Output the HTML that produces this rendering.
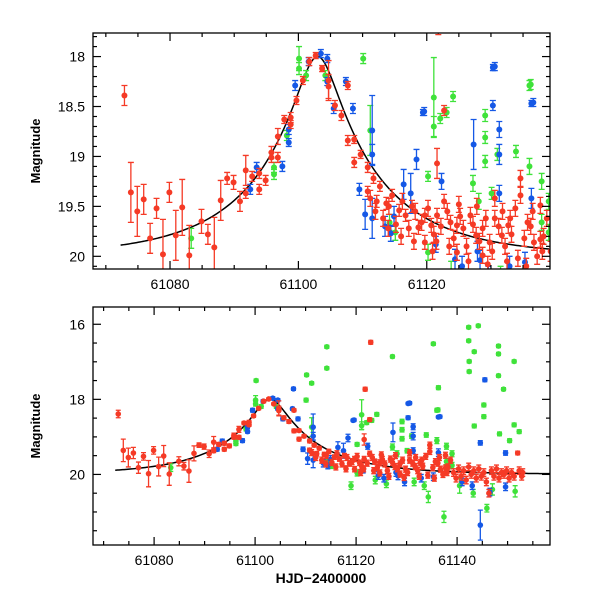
<!DOCTYPE html>
<html><head><meta charset="utf-8"><style>
html,body{margin:0;padding:0;background:#fff;}
svg{display:block;font-family:"Liberation Sans",sans-serif;}
</style></head><body>
<svg id="c" width="600" height="600" viewBox="0 0 600 600" xmlns="http://www.w3.org/2000/svg">
<defs>
<clipPath id="clipTop"><rect x="93" y="33" width="457" height="236"/></clipPath>
<clipPath id="clipBot"><rect x="93" y="307" width="457" height="238"/></clipPath>
</defs>
</svg>
<script>
// [HJD-2400000, magnitude, error]
const redPoints = [
[61072.9,18.39,.1],[61073.9,19.36,.3],[61074.9,19.55,.25],[61075.9,19.43,.15],[61076.9,19.82,.15],
[61077.9,19.52,.1],[61078.9,19.98,.35],[61079.9,19.36,.1],[61080.9,19.79,.25],[61081.9,19.51,.28],
[61083.0,19.99,.3],[61084.9,19.65,.12],[61085.9,19.78,.1],[61086.9,19.91,.3],[61087.9,19.44,.2],
[61088.9,19.22,.06],[61089.9,19.26,.07],[61090.9,19.45,.1],[61091.8,19.14,.15],[61091.8,19.37,.05],
[61092.8,19.2,.05],[61093.9,19.17,.05],[61093.9,19.33,.05],[61094.9,19.24,.05],[61095.8,18.96,.06],
[61095.8,19.01,.05],[61096.8,18.8,.08],[61096.8,19.01,.05],[61097.8,18.63,.04],[61098.8,18.61,.05],
[61098.8,18.68,.04],[61099.7,18.44,.04],[61100.7,18.24,.04],[61101.7,18.05,.04],[61102.7,17.99,.03],
[61103.7,18.12,.03],[61104.7,18.3,.12],[61104.7,18.24,.2],[61105.7,18.49,.05],[61106.7,18.59,.05],
[61107.7,18.29,.04],[61107.7,18.84,.05],[61108.7,18.83,.04],[61108.7,19.06,.05],[61109.7,18.98,.04],
[61110.8,19.11,.05],[61110.8,19.35,.05],[61111.7,19.22,.05],[61112.2,19.45,.06],[61112.7,19.3,.05],
[61113.7,19.47,.06],[61114.6,19.39,.06],[61115.7,19.54,.06],[61116.7,19.59,.06],[61117.7,19.5,.06],
[61118.7,19.71,.07],[61119.7,19.59,.07],[61119.7,19.86,.07],[61120.7,19.69,.07],[61121.6,19.07,.15],
[61121.6,19.59,.07],[61122.7,18.54,.05],[61122.7,19.45,.07],[61123.7,19.66,.07],[61124.7,19.69,.08],
[61124.7,19.96,.08],[61125.7,19.72,.08],[61126.8,19.59,.08],[61127.7,19.79,.08],[61128.7,19.72,.08],
[61128.7,19.99,.08],[61129.8,19.86,.08],[61130.6,19.42,.08],[61130.6,19.62,.08],[61131.7,19.79,.08],
[61132.7,19.69,.08],[61133.8,19.52,.08],[61134.6,19.22,.08],[61134.6,19.39,.08],[61135.7,19.66,.08],
[61136.7,19.86,.08],[61137.7,19.49,.08],[61137.7,19.83,.08],[61122.9,16.48,.05],[61121.8,17.73,.05],
[61139.3,19.95,.1],[61139.8,20.1,.1],[61140.3,19.85,.1],[61140.8,20.05,.1],[61141.3,19.9,.1],
[61141.8,20.15,.1],[61142.3,19.8,.1],[61142.8,20.0,.1],[61143.3,19.9,.1],[61143.8,20.1,.1],
[61144.3,19.85,.1],[61144.8,20.05,.1],[61145.3,19.95,.1],[61145.8,20.2,.1],[61146.3,20.5,.1],
[61146.8,19.9,.1],[61147.3,20.05,.1],[61147.8,19.85,.1],[61148.3,20.1,.1],[61148.8,19.95,.1],
[61149.3,20.0,.1],[61149.8,19.9,.1],[61150.3,20.1,.1],[61150.8,19.95,.1],[61151.3,20.05,.1],
[61152.0,19.43,.05],[61152.3,19.9,.1],[61152.8,20.05,.1],[61153.0,19.95,.1]
];
const redDensePoints = [
[61111.2,19.42,.08],[61112.0,19.55,.08],[61113.2,19.62,.08],[61114.1,19.5,.08],[61115.2,19.68,.08],
[61116.2,19.45,.08],[61117.2,19.72,.08],[61118.2,19.55,.08],[61119.2,19.66,.08],[61120.2,19.52,.08],
[61121.1,19.78,.08],[61122.2,19.7,.08],[61123.2,19.55,.08],[61124.2,19.82,.08],[61125.2,19.6,.08],
[61126.2,19.9,.08],[61127.2,19.68,.08],[61128.2,19.85,.08],[61129.2,19.62,.08],[61130.2,19.95,.08],
[61131.2,19.7,.08],[61132.2,19.9,.08],[61133.2,19.78,.08],[61134.2,20.02,.08],[61135.2,19.82,.08],
[61136.2,19.7,.08],[61137.2,20.0,.08],[61138.2,19.8,.08],[61138.7,19.62,.08],[61126.5,20.05,.08],
[61129.5,20.08,.08],[61132.5,20.05,.08],[61135.5,20.1,.08],[61123.5,19.9,.08],[61120.9,19.95,.08],
[61118.0,19.85,.08],[61116.0,19.8,.08],[61114.0,19.72,.08],[61127.8,19.5,.08],[61131.8,19.55,.08],
[61133.0,19.62,.08],[61136.5,19.55,.08],[61138.0,19.95,.08],[61125.0,19.48,.08],[61121.5,19.85,.08]
];
const bluePoints = [
[61092.5,19.33,.05],[61093.5,19.11,.05],[61097.5,19.1,.05],[61098.5,18.73,.05],[61098.5,18.86,.04],
[61099.5,18.29,.05],[61101.6,18.05,.04],[61103.5,17.97,.04],[61104.5,18.02,.04],[61104.5,18.25,.04],
[61105.5,18.52,.05],[61107.4,18.25,.04],[61108.5,18.52,.05],[61107.6,17.72,.04],[61109.5,19.33,.06],
[61110.4,19.58,.15],[61111.5,18.74,.35],[61111.5,18.98,.1],[61111.5,19.62,.2],[61113.5,19.7,.1],
[61114.4,19.77,.08],[61116.4,19.28,.15],[61117.5,19.37,.2],[61118.4,19.03,.1],[61119.4,18.56,.03],
[61121.4,19.88,.08],[61122.3,19.25,.08],[61124.4,20.03,.1],[61127.3,18.88,.25],[61128.3,20.04,.1],
[61130.3,18.11,.03],[61130.3,18.49,.05],[61131.3,18.73,.08],[61131.3,18.98,.1],[61131.3,19.37,.08],
[61135.3,20.06,.1],[61136.3,18.47,.03],[61136.3,19.42,.1],[61119.6,18.55,.04],[61130.6,18.1,.04],
[61136.6,18.46,.04],[61145.5,17.48,.05],[61144.6,19.16,.06],[61144.6,21.35,.4],[61149.6,19.43,.06],
[61146.5,20.47,.1],[61149.6,20.33,.1],[61141.0,20.2,.1],[61143.0,20.3,.1],
[61125.5,20.1,.1],[61127.9,19.95,.1],[61129.6,20.2,.1],[61132.9,20.1,.1],[61114.9,19.6,.1]
];
const greenPoints = [
[61083.3,19.82,.1],[61096.2,19.11,.05],[61096.2,19.18,.05],[61098.2,18.79,.05],[61100.1,18.02,.12],
[61100.1,18.12,.06],[61101.2,18.19,.05],[61104.2,18.19,.05],[61110.1,18.02,.05],[61111.2,18.74,.25],
[61114.2,19.66,.08],[61115.1,19.76,.08],[61120.2,19.2,.05],[61120.2,19.96,.08],[61121.1,18.41,.4],
[61121.1,18.7,.1],[61122.1,18.62,.05],[61123.1,18.56,.05],[61124.1,18.4,.05],[61127.2,19.27,.08],
[61128.1,19.45,.08],[61129.1,18.59,.06],[61129.1,18.81,.06],[61129.1,19.05,.06],[61130.1,19.37,.06],
[61131.0,18.98,.06],[61133.9,18.95,.06],[61136.0,18.29,.05],[61136.0,19.1,.08],[61137.9,19.25,.08],
[61137.9,19.66,.08],[61139.0,19.45,.08],[61139.0,19.76,.08],
[61114.2,16.6,.04],[61114.2,17.17,.04],[61100.2,17.5,.04],[61110.2,17.35,.04],[61111.2,17.57,.04],
[61127.2,16.86,.04],[61135.3,16.52,.04],[61136.3,17.69,.05],[61142.3,16.08,.04],[61142.3,16.44,.04],
[61142.4,16.99,.04],[61142.4,17.26,.04],[61143.4,16.73,.04],[61144.2,16.04,.04],[61148.2,16.58,.04],
[61148.2,16.79,.04],[61148.2,17.37,.04],[61149.2,17.73,.04],[61151.3,16.99,.04],[61145.3,18.15,.05],
[61145.3,18.46,.05],[61143.4,18.71,.05],[61148.4,18.92,.05],[61150.4,19.1,.05],[61151.3,18.68,.05],
[61152.3,18.86,.05],[61137.4,21.13,.15],[61145.9,20.9,.1],[61134.3,20.6,.15],[61143.2,20.5,.1],
[61136.2,18.28,.05],[61140.5,20.3,.2],[61147.0,20.4,.15],[61151.5,20.45,.15],
[61119.0,20.3,.1],[61123.8,20.15,.1],[61126.0,20.25,.1],[61131.5,20.2,.1],[61133.5,20.3,.1]
];
// microlensing model parameters
const modelT0 = 61103.0, modelU0 = 0.16, modelTE = 19, modelBase = 20.0;
const xTicks = [61080,61100,61120,61140];
const yTicksTop = [18,18.5,19,19.5,20];
const yTicksBot = [16,18,20];

const svg = document.getElementById('c');
const NS = 'http://www.w3.org/2000/svg';
function mk(tag, attrs, parent){
  const e = document.createElementNS(NS, tag);
  for (const k in attrs) e.setAttribute(k, attrs[k]);
  (parent||svg).appendChild(e);
  return e;
}
const panels = [
  {name:'top', x0:93,x1:550,y0:33,y1:269, t0:61068.0,t1:61139.2, m0:17.764,m1:20.127, yTicks:yTicksTop, yMinor:0.1, r:3, clip:'clipTop', cap:3},
  {name:'bottom', x0:93,x1:550,y0:307,y1:545, t0:61067.9,t1:61158.4, m0:15.54,m1:21.88, yTicks:yTicksBot, yMinor:0.5, r:2.8, clip:'clipBot', cap:2.5}
];
const colors = {green:'#3fe23a', blue:'#1558e6', red:'#f53a26'};
function model(t){
  const u = Math.sqrt(modelU0*modelU0 + Math.pow((t-modelT0)/modelTE,2));
  const A = (u*u+2)/(u*Math.sqrt(u*u+4));
  return modelBase - 2.5*Math.log10(A);
}
panels.forEach(p=>{
  const X = t => p.x0 + (t-p.t0)/(p.t1-p.t0)*(p.x1-p.x0);
  const Y = m => p.y0 + (m-p.m0)/(p.m1-p.m0)*(p.y1-p.y0);
  const g = mk('g',{});
  
  
  const plot = mk('g',{'clip-path':'url(#'+p.clip+')'}, g);
  
  
  let d='';
  const tEnd = Math.min(p.t1, 61158.5);
  for (let t=61072.3; t<=tEnd; t+=0.25){ d += (d?'L':'M')+X(t).toFixed(2)+' '+Y(model(t)).toFixed(2); }
  const curve = mk('path',{d:d,fill:'none',stroke:'#000','stroke-width':1.5}, plot);
  
  
  [['green',greenPoints],['blue',bluePoints],['red',redPoints],['red',redDensePoints]].forEach(([c,arr])=>{
    const sg = mk('g',{fill:colors[c],stroke:colors[c]}, plot);
    
    
    arr.forEach(pt=>{
      const x=X(pt[0]), y=Y(pt[1]), ya=Y(pt[1]-pt[2]), yb=Y(pt[1]+pt[2]);
      const eb = mk('path',{d:`M${x} ${ya}L${x} ${yb}M${x-p.cap} ${ya}L${x+p.cap} ${ya}M${x-p.cap} ${yb}L${x+p.cap} ${yb}`,'stroke-width':1.3,fill:'none'}, sg);
      
      
      const dot = mk('circle',{cx:x,cy:y,r:p.r,stroke:'none'}, sg);
      
      
    });
  });
  const fr = mk('rect',{x:p.x0,y:p.y0,width:p.x1-p.x0,height:p.y1-p.y0,fill:'none',stroke:'#000','stroke-width':1.3}, g);
  
  
  const tk = mk('g',{stroke:'#000','stroke-width':1.2}, g);
  
  
  for (let t=Math.ceil(p.t0/5)*5; t<=p.t1; t+=5){
    const major = (t%20===0); const L = major?8:4; const x=X(t);
    mk('line',{x1:x,x2:x,y1:p.y1,y2:p.y1-L},tk);
    mk('line',{x1:x,x2:x,y1:p.y0,y2:p.y0+L},tk);
  }
  for (let k=Math.ceil(p.m0/p.yMinor-1e-6); k*p.yMinor<=p.m1; k++){
    const m = k*p.yMinor; const y=Y(m);
    const major = p.yTicks.some(v=>Math.abs(v-m)<1e-6); const L=major?8:4;
    mk('line',{x1:p.x0,x2:p.x0+L,y1:y,y2:y},tk);
    mk('line',{x1:p.x1,x2:p.x1-L,y1:y,y2:y},tk);
  }
  xTicks.forEach(t=>{
    if (t<p.t0||t>p.t1) return;
    const tx = mk('text',{x:X(t),y:p.y1+20,'text-anchor':'middle','font-size':14,fill:'#000'}, g);
    tx.textContent = t;
    
    
  });
  p.yTicks.forEach(m=>{
    const ty = mk('text',{x:p.x0-8,y:Y(m)+5,'text-anchor':'end','font-size':14,fill:'#000'}, g);
    ty.textContent = m;
    
    
  });
  const yt = mk('text',{x:0,y:0,transform:`translate(40 ${(p.y0+p.y1)/2}) rotate(-90)`,'text-anchor':'middle','font-size':13,'font-weight':'bold',fill:'#000'}, g);
  yt.textContent = 'Magnitude';
  
  
});
const xt = mk('text',{x:321,y:583,'text-anchor':'middle','font-size':14,'font-weight':'bold',fill:'#000'});
xt.textContent = 'HJD\u22122400000';


</script>
</body></html>
